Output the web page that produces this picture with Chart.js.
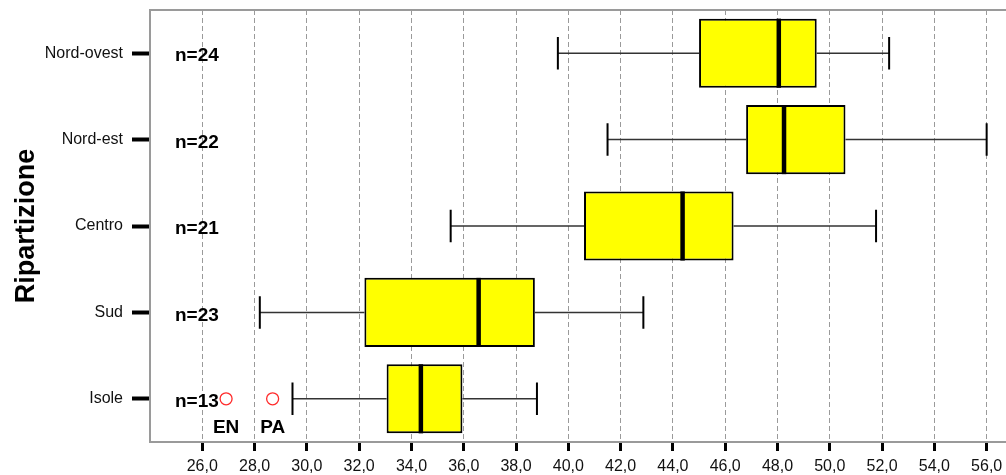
<!DOCTYPE html>
<html>
<head>
<meta charset="utf-8">
<script src="https://cdn.jsdelivr.net/npm/chart.js@4.4.0/dist/chart.umd.min.js"></script>
<style>
  html, body { margin: 0; padding: 0; background: #fff; overflow: hidden; }
  canvas { display: block; }
</style>
</head>
<body>
<canvas id="c" width="1006" height="475"></canvas>
<script>
// Box plot per ripartizione geografica
const categories  = ['Nord-ovest', 'Nord-est', 'Centro', 'Sud', 'Isole'];
const whiskerLow  = [39.6, 41.5, 35.5, 28.2, 29.45];
const q1          = [45.0, 46.8, 40.6, 32.2, 33.05];
const median      = [48.05, 48.25, 44.37, 36.57, 34.36];
const q3          = [49.5, 50.6, 46.32, 38.72, 35.95];
const whiskerHigh = [52.27, 56.0, 51.77, 42.87, 38.8];
const counts      = [24, 22, 21, 23, 13];

// Valori anomali
const outlierCategory = ['Isole', 'Isole'];
const outlierValues   = [26.91, 28.69];
const outlierLabels   = ['EN', 'PA'];

const xTickValues = [26, 28, 30, 32, 34, 36, 38, 40, 42, 44, 46, 48, 50, 52, 54, 56];
const axisTitle = 'Ripartizione';

const FONT = '"Liberation Sans", Arial, Helvetica, sans-serif';

const boxParts = {
  id: 'boxParts',
  beforeDatasetsDraw(chart) {
    const { ctx, scales: { x, y }, chartArea } = chart;
    const meta = chart.getDatasetMeta(0);
    ctx.save();
    // top frame line
    ctx.strokeStyle = '#9a9a9a';
    ctx.lineWidth = 2;
    ctx.beginPath();
    ctx.moveTo(chartArea.left, chartArea.top);
    ctx.lineTo(chartArea.right, chartArea.top);
    ctx.stroke();
    // whiskers
    categories.forEach((c, i) => {
      const yc = y.getPixelForValue(i);
      const h = meta.data[i].height;
      const cap = h * 0.47;
      ctx.strokeStyle = '#333';
      ctx.lineWidth = 1.5;
      ctx.beginPath();
      ctx.moveTo(x.getPixelForValue(whiskerLow[i]), yc);
      ctx.lineTo(x.getPixelForValue(q1[i]), yc);
      ctx.moveTo(x.getPixelForValue(q3[i]), yc);
      ctx.lineTo(x.getPixelForValue(whiskerHigh[i]), yc);
      ctx.stroke();
      ctx.strokeStyle = '#000';
      ctx.lineWidth = 2;
      ctx.beginPath();
      const xl = x.getPixelForValue(whiskerLow[i]);
      const xh = x.getPixelForValue(whiskerHigh[i]);
      ctx.moveTo(xl, yc - cap / 2); ctx.lineTo(xl, yc + cap / 2);
      ctx.moveTo(xh, yc - cap / 2); ctx.lineTo(xh, yc + cap / 2);
      ctx.stroke();
    });
    ctx.restore();
  },
  afterDatasetsDraw(chart) {
    const { ctx, scales: { x, y }, chartArea } = chart;
    const meta = chart.getDatasetMeta(0);
    ctx.save();
    // medians
    categories.forEach((c, i) => {
      const yc = y.getPixelForValue(i);
      const h = meta.data[i].height;
      const xm = x.getPixelForValue(median[i]);
      ctx.strokeStyle = '#000';
      ctx.lineWidth = 4.5;
      ctx.beginPath();
      ctx.moveTo(xm, yc - h / 2);
      ctx.lineTo(xm, yc + h / 2);
      ctx.stroke();
    });
    // group sizes
    ctx.fillStyle = '#000';
    ctx.font = 'bold 19px ' + FONT;
    ctx.textAlign = 'left';
    ctx.textBaseline = 'middle';
    categories.forEach((c, i) => {
      const yc = y.getPixelForValue(i);
      ctx.fillText('n=' + counts[i], chartArea.left + 25, yc + 3);
    });
    // outliers
    outlierValues.forEach((v, k) => {
      const yc = y.getPixelForValue(categories.indexOf(outlierCategory[k]));
      const xo = x.getPixelForValue(v);
      ctx.strokeStyle = '#ff2a2a';
      ctx.lineWidth = 1.3;
      ctx.beginPath();
      ctx.arc(xo, yc, 6, 0, Math.PI * 2);
      ctx.stroke();
      ctx.fillStyle = '#000';
      ctx.textAlign = 'center';
      ctx.fillText(outlierLabels[k], xo, yc + 29);
    });
    ctx.restore();
  }
};

new Chart(document.getElementById('c'), {
  type: 'bar',
  data: {
    labels: categories,
    datasets: [{
      data: categories.map((c, i) => [q1[i], q3[i]]),
      backgroundColor: '#ffff00',
      borderColor: '#000',
      borderWidth: 2,
      borderSkipped: false,
      barPercentage: 0.8,
      categoryPercentage: 1.0
    }]
  },
  options: {
    indexAxis: 'y',
    responsive: false,
    animation: false,
    devicePixelRatio: 1,
    layout: { padding: { top: 10, left: 0, right: 0, bottom: 0 } },
    plugins: { legend: { display: false }, tooltip: { enabled: false } },
    scales: {
      x: {
        type: 'linear',
        min: 24,
        max: 56.74,
        afterBuildTicks(scale) { scale.ticks = xTickValues.map(v => ({ value: v })); },
        afterFit(scale) {
          scale.height = 33;
          scale.paddingLeft = 0; scale.paddingRight = 0;
        },
        ticks: {
          color: '#111',
          font: { family: FONT, size: 16 },
          padding: 6,
          maxRotation: 0,
          autoSkip: false,
          callback: v => v.toFixed(1).replace('.', ',')
        },
        grid: {
          color: '#9a9a9a',
          lineWidth: 1,
          tickColor: '#000',
          tickWidth: 3,
          tickLength: 9
        },
        border: { display: true, color: '#9a9a9a', width: 2, dash: [5, 3] }
      },
      y: {
        type: 'category',
        afterFit(scale) {
          scale.width = 150;
          scale.paddingTop = 0; scale.paddingBottom = 0;
        },
        ticks: {
          color: '#111',
          font: { family: FONT, size: 16 },
          padding: 9
        },
        grid: {
          offset: false,
          drawOnChartArea: false,
          tickColor: '#000',
          tickWidth: 4,
          tickLength: 18
        },
        border: { display: true, color: '#9a9a9a', width: 2 },
        title: {
          display: true,
          text: axisTitle,
          color: '#000',
          font: { family: FONT, size: 27, weight: 'bold' },
          padding: { top: 10, bottom: 0 }
        }
      }
    }
  },
  plugins: [boxParts]
});
</script>
</body>
</html>
